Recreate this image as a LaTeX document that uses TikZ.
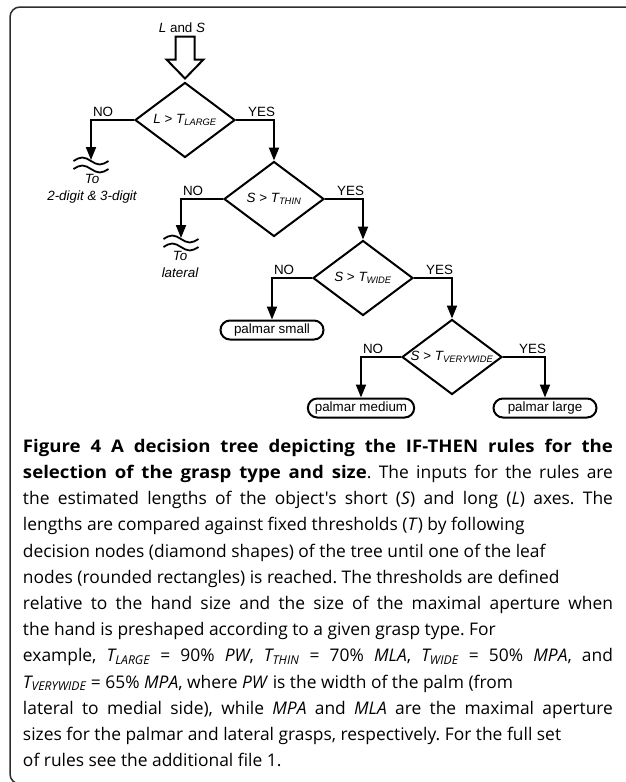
\documentclass[tikz,border=0pt]{standalone}
\usepackage{fontspec}
\setmainfont{Liberation Sans}
\newfontfamily\capfont[BoldFeatures={FakeStretch=1.07}]{Open Sans}
\usetikzlibrary{arrows.meta,shapes.geometric}
\definecolor{frame_gray}{RGB}{45,45,45}
\newcommand{\thr}[1]{\textit{T\textsubscript{#1}}}

\begin{document}
\begin{tikzpicture}[->,>={Triangle[length=13pt,width=10pt]},x=1pt,y=1pt,line width=2pt,
    font=\fontsize{13.4}{17}\selectfont]
    \tikzstyle{test}=[draw, diamond, aspect=1.333, minimum width=100pt, minimum height=75pt, inner sep=0pt]
    \tikzstyle{leaf}=[draw, rounded corners=9.5pt, minimum width=103pt, minimum height=19pt, inner xsep=7pt, inner ysep=0pt]
    \tikzstyle{exit}=[font=\itshape\fontsize{13.4}{17}\selectfont, align=center, inner sep=0pt]
    \tikzstyle{elbow}=[to path={-| (\tikztotarget) \tikztonodes}]
    \tikzstyle{no}=[pos=0.5, anchor=south west, inner sep=0pt, xshift=1pt, yshift=2.5pt]
    \tikzstyle{yes}=[pos=0.5, anchor=south east, inner sep=0pt, xshift=2pt, yshift=2.5pt]
    \tikzset{wavy/.pic={
        \draw[-, line width=1.8pt] (-17.5,0) sin (-8.75,3.5) cos (0,0) sin (8.75,-3.5) cos (17.5,0);
        \draw[-, line width=1.8pt] (-17.5,-8) sin (-8.75,-4.5) cos (0,-8) sin (8.75,-11.5) cos (17.5,-8);
    }}

    \useasboundingbox (0,0) rectangle (625,-782);
    % frame, open on the right
    \draw[-, frame_gray, line width=1.5pt, rounded corners=10pt] (630,-7) -- (10,-7) -- (10,-784) -- (630,-784);

    \node (inputs) at (182,-28) {\textit{L} and \textit{S}};

    \node[test] (d1) at (185,-120) {\textit{L} > \thr{LARGE}};
    \node[test] (d2) at (274,-199) {\textit{S} > \thr{THIN}};
    \node[test] (d3) at (363,-278) {\textit{S} > \thr{WIDE}};
    \node[test] (d4) at (452,-357) {\textit{S} > \thr{VERYWIDE}};

    % big hollow arrow into the first test
    \draw[-, fill=white, shift={(d1.north)}] (-9.5,45) -- (9.5,45) -- (9.5,22) -- (18.5,22)
        -- (0,3) -- (-18.5,22) -- (-9.5,22) -- cycle;

    % exits to the other trees
    \coordinate (w1) at (91,-160);
    \pic at (91,-161) {wavy};
    \node[exit] (t1) at (92,-189) {To\\2-digit \& 3-digit};
    \coordinate (w2) at (181,-238);
    \pic at (181,-239) {wavy};
    \node[exit] (t2) at (180,-264) {To\\lateral};

    \node[leaf] (small)  at (272,-330) {palmar small};
    \node[leaf] (medium) at (361,-408) {palmar medium};
    \node[leaf] (large)  at (545,-408) {palmar large};

    \path
     (d1.west) edge[elbow] node[no]  (n1) {NO}  (w1)
     (d1.east) edge[elbow] node[yes] (y1) {YES} (d2.north)
     (d2.west) edge[elbow] node[no]  (n2) {NO}  (w2)
     (d2.east) edge[elbow] node[yes] (y2) {YES} (d3.north)
     (d3.west) edge[elbow] node[no]  (n3) {NO}  (small.north)
     (d3.east) edge[elbow] node[yes] (y3) {YES} (d4.north)
     (d4.west) edge[elbow] node[no]  (n4) {NO}  (medium.north)
     (d4.east) edge[elbow] node[yes] (y4) {YES} (large.north)
     ;

    \node[anchor=north west, text width=590pt, align=justify, inner sep=0pt,
        font=\capfont\fontsize{17.4}{26.2}\selectfont\frenchspacing] (caption) at (22,-438)
    {\textbf{Figure 4 A decision tree depicting the IF-THEN rules for the\linebreak
    selection of the grasp type and size}. The inputs for the rules are\linebreak
    the estimated lengths of the object's short (\textit{S}) and long (\textit{L}) axes. The\linebreak
    lengths are compared against fixed thresholds (\textit{T}) by following\newline
    decision nodes (diamond shapes) of the tree until one of the leaf\newline
    nodes (rounded rectangles) is reached. The thresholds are defined\newline
    relative to the hand size and the size of the maximal aperture when\linebreak
    the hand is preshaped according to a given grasp type. For\newline
    example, \thr{LARGE} = 90\% \textit{PW}, \thr{THIN} = 70\% \textit{MLA}, \thr{WIDE} = 50\% \textit{MPA}, and\linebreak
    \thr{VERYWIDE} = 65\% \textit{MPA}, where \textit{PW} is the width of the palm (from\newline
    lateral to medial side), while \textit{MPA} and \textit{MLA} are the maximal aperture\linebreak
    sizes for the palmar and lateral grasps, respectively. For the full set\newline
    of rules see the additional file 1.};
\end{tikzpicture}
\end{document}
